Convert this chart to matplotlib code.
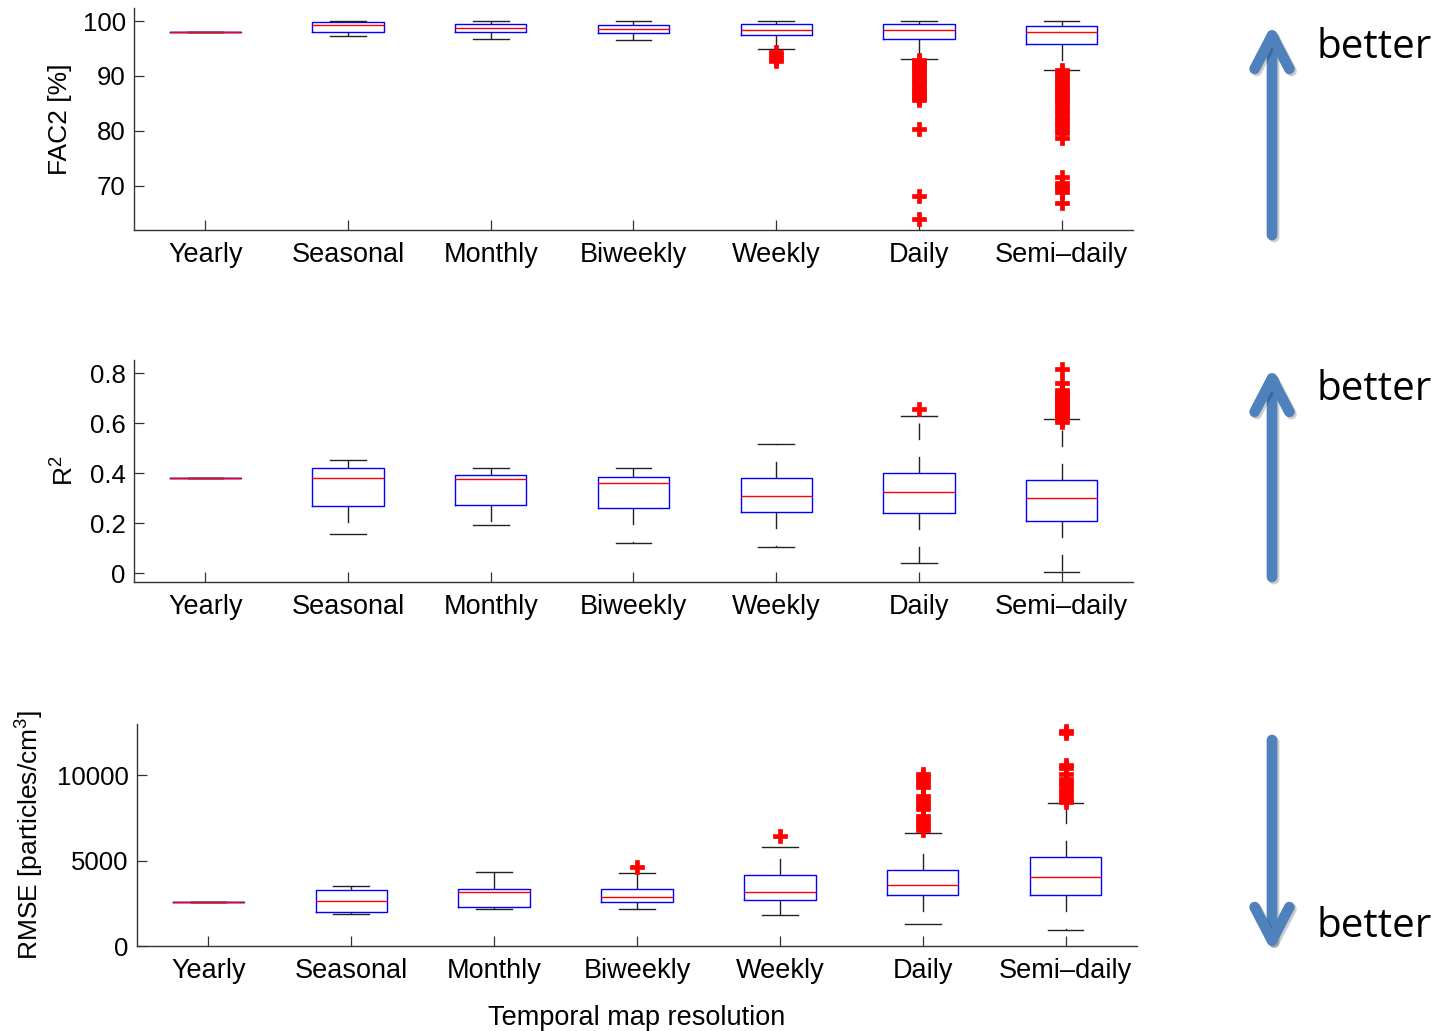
import matplotlib
matplotlib.use("Agg")
import matplotlib.pyplot as plt
from matplotlib.patches import FancyArrowPatch, ArrowStyle
import matplotlib.patheffects as pe

plt.rcParams['font.family'] = ['Liberation Sans', 'DejaVu Sans']
plt.rcParams['mathtext.fontset'] = 'custom'
plt.rcParams['mathtext.rm'] = 'Liberation Sans'
plt.rcParams['mathtext.it'] = 'Liberation Sans:italic'

cats = ['Yearly', 'Seasonal', 'Monthly', 'Biweekly', 'Weekly', 'Daily', 'Semi\u2013daily']

# FAC2 [%]
fac2_med = [98.0, 99.3, 98.7, 98.6, 98.45, 98.3, 98.0]
fac2_q1 = [98.0, 98.0, 98.1, 97.85, 97.4, 96.8, 95.9]
fac2_q3 = [98.0, 99.8, 99.4, 99.3, 99.4, 99.4, 99.2]
fac2_lo = [98.0, 97.3, 96.7, 96.6, 94.9, 93.1, 91.0]
fac2_hi = [98.0, 100.0, 100.0, 100.0, 100.0, 100.0, 100.0]
fac2_out = [[], [], [], [],
            [94.3, 93.8, 93.3, 92.8],
            [93.0, 92.5, 92.0, 91.5, 91.0, 90.5, 90.0, 89.5, 89.0, 88.5,
             88.0, 87.5, 87.0, 86.5, 86.0, 85.7, 80.3, 68.1, 63.9],
            [91.0, 90.5, 90.0, 89.5, 89.0, 88.5, 88.0, 87.5, 87.0, 86.5,
             86.0, 85.5, 85.0, 84.4, 83.8, 83.2, 82.5, 82.0, 81.5, 80.8,
             80.2, 79.6, 78.6, 71.5, 70.5, 70.0, 69.5, 68.8, 66.8]]

# R^2
r2_med = [0.383, 0.383, 0.376, 0.361, 0.309, 0.324, 0.303]
r2_q1 = [0.383, 0.268, 0.273, 0.260, 0.245, 0.243, 0.210]
r2_q3 = [0.383, 0.422, 0.393, 0.384, 0.383, 0.403, 0.375]
r2_lo = [0.383, 0.158, 0.192, 0.120, 0.107, 0.042, 0.004]
r2_hi = [0.383, 0.454, 0.421, 0.420, 0.518, 0.631, 0.618]
r2_out = [[], [], [], [], [],
          [0.656],
          [0.817, 0.761, 0.734, 0.724, 0.714, 0.704, 0.694, 0.684, 0.674,
           0.664, 0.654, 0.644, 0.634, 0.624, 0.614, 0.606]]

# RMSE [particles/cm3]
rmse_med = [2600, 2655, 3165, 2872, 3147, 3593, 4027]
rmse_q1 = [2600, 2010, 2268, 2579, 2696, 2971, 3007]
rmse_q3 = [2600, 3300, 3322, 3322, 4144, 4437, 5199]
rmse_lo = [2600, 1875, 2150, 2186, 1817, 1290, 938]
rmse_hi = [2600, 3535, 4337, 4260, 5785, 6604, 8365]
rmse_out = [[], [], [],
            [4648],
            [6465],
            [10080, 9900, 9700, 9500, 9300, 8800, 8600, 8400, 8200, 8000,
             7600, 7400, 7200, 7000, 6800],
            [12600, 12450, 10600, 10400, 10100, 9800, 9600, 9400, 9200,
             9000, 8800, 8600, 8450]]

W, H = 1445, 1031
fig = plt.figure(figsize=(W / 100, H / 100), dpi=100)


def px_axes(left, top, right, bottom):
    return fig.add_axes([left / W, 1 - bottom / H, (right - left) / W, (bottom - top) / H])


def stats(med, q1, q3, lo, hi, out):
    res = []
    for i in range(len(med)):
        res.append(dict(med=med[i], q1=q1[i], q3=q3[i], whislo=lo[i],
                        whishi=hi[i], fliers=out[i]))
    return res


def panel(ax, st, ylim, yticks, yticklabels, ylabel, labx):
    ax.bxp(st, positions=range(1, 8), widths=0.5, showfliers=True,
           boxprops=dict(color='#0000ff', lw=1.0),
           medianprops=dict(color='#ff0000', lw=1.0),
           whiskerprops=dict(color='#222222', lw=1.0, linestyle=(0, (12, 12))),
           capprops=dict(color='#222222', lw=1.0),
           flierprops=dict(marker='P', markersize=9.5, markerfacecolor='#ff0000',
                           markeredgecolor='#ff0000', markeredgewidth=0.5))
    ax.set_xlim(0.5, 7.5)
    ax.set_ylim(*ylim)
    ax.set_yticks(yticks)
    ax.set_yticklabels(yticklabels)
    ax.set_xticks(range(1, 8))
    ax.set_xticklabels(cats)
    for s in ['top', 'right']:
        ax.spines[s].set_visible(False)
    for s in ['left', 'bottom']:
        ax.spines[s].set_color('#333333')
        ax.spines[s].set_linewidth(1.0)
    ax.tick_params(direction='in', length=7, width=0.9, color='#333333')
    ax.tick_params(axis='x', labelsize=19.5, pad=8.4)
    ax.tick_params(axis='y', labelsize=18.5, pad=6)
    ax.set_ylabel(ylabel, fontsize=19)
    ax.yaxis.set_label_coords(labx, 0.5)


ax1 = px_axes(134, 8, 1133, 230)
panel(ax1, stats(fac2_med, fac2_q1, fac2_q3, fac2_lo, fac2_hi, fac2_out),
      (61.9, 102.4), [70, 80, 90, 100], ['70', '80', '90', '100'], 'FAC2 [%]', -0.062)

ax2 = px_axes(134, 360, 1133, 582)
panel(ax2, stats(r2_med, r2_q1, r2_q3, r2_lo, r2_hi, r2_out),
      (-0.035, 0.853), [0, 0.2, 0.4, 0.6, 0.8], ['0', '0.2', '0.4', '0.6', '0.8'],
      r'R$^{\mathrm{2}}$', -0.055)

ax3 = px_axes(137, 724, 1137, 946)
panel(ax3, stats(rmse_med, rmse_q1, rmse_q3, rmse_lo, rmse_hi, rmse_out),
      (0, 13000), [0, 5000, 10000], ['0', '5000', '10000'],
      r'RMSE [particles/cm$^{\mathrm{3}}$]', -0.091)
ax3.set_xlabel('Temporal map resolution', fontsize=19.5)
ax3.xaxis.set_label_coords(0.5, -0.268)

# "better" arrows on the right
blue = '#4f81bd'
arrows = [((1272, 235), (1272, 24)),
          ((1272, 577), (1272, 367)),
          ((1272, 740), (1272, 952))]
for (x0, y0), (x1, y1) in arrows:
    a = FancyArrowPatch((x0 / W, 1 - y0 / H), (x1 / W, 1 - y1 / H),
                        transform=fig.transFigure,
                        arrowstyle=ArrowStyle('->', head_length=24, head_width=12.5),
                        mutation_scale=1, shrinkA=0, shrinkB=0,
                        color=blue, lw=7.7, capstyle='round', joinstyle='round')
    a.set_path_effects([pe.SimpleLineShadow(offset=(1.5, -1.5), shadow_color='k', alpha=0.2),
                        pe.Normal()])
    fig.add_artist(a)

for yb in [58, 400, 937]:
    fig.text(1317 / W, 1 - yb / H, 'better', fontsize=29, family='Open Sans',
             ha='left', va='baseline')

fig.savefig('out.png', dpi=100)
